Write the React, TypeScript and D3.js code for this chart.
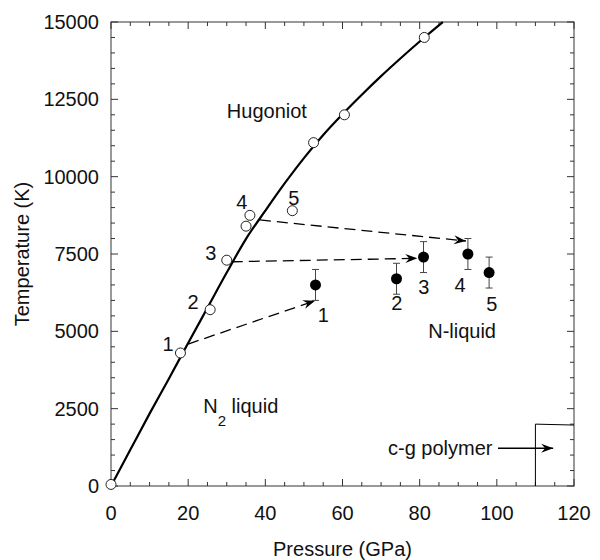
import React from 'react';
import * as d3 from 'd3';

// Hugoniot curve
const curveP = [0, 5, 10, 15, 20, 25, 30, 35, 40, 45, 50, 55, 60, 65, 70, 75, 80, 86];
const curveT = [0, 1170, 2340, 3470, 4620, 5760, 6900, 7990, 8900, 9780, 10600, 11350, 12020, 12650, 13250, 13820, 14370, 15000];

// Open circles on the Hugoniot
const hugP = [0, 18, 25.7, 30, 35, 36, 47, 52.5, 60.5, 81.2];
const hugT = [50, 4300, 5700, 7300, 8400, 8750, 8900, 11100, 12000, 14500];

// Filled points (N-liquid) with error bars
const liqP = [53, 74, 81, 92.5, 98];
const liqT = [6500, 6700, 7400, 7500, 6900];
const liqErr = [500, 500, 500, 500, 500];

// Dashed arrows
const arrFromP = [20, 31.3, 38.6];
const arrFromT = [4590, 7250, 8600];
const arrToP = [52.9, 79.4, 92];
const arrToT = [5990, 7360, 7920];

// Number labels
const numText = ['1', '2', '3', '4', '5'];
const hugLabP = [14.8, 21.3, 25.9, 33.9, 47.4];
const hugLabT = [4600, 5950, 7530, 9190, 9310];
const liqLabP = [55, 74.1, 81.1, 90.5, 98.7];
const liqLabT = [5530, 5920, 6430, 6500, 5880];

// c-g polymer boundary
const polyP = [110, 110, 120];
const polyT = [0, 2000, 1970];
const polyArrowP = [100.3, 114.6];
const polyArrowT = [1220, 1220];

const xTicks = [0, 20, 40, 60, 80, 100, 120];
const yTicks = [0, 2500, 5000, 7500, 10000, 12500, 15000];
const xMinor = d3.range(0, 121, 5);
const yMinor = d3.range(0, 15001, 500);

const FONT = '"Liberation Sans", Arial, Helvetica, sans-serif';

export default function App() {
  const x = d3.scaleLinear().domain([0, 120]).range([111, 574]);
  const y = d3.scaleLinear().domain([0, 15000]).range([486, 22]);
  const [x0, x1] = x.range();
  const [y0, y1] = y.range();

  const line = d3
    .line<number>()
    .x((_, i) => x(curveP[i]))
    .y((_, i) => y(curveT[i]))
    .curve(d3.curveMonotoneX);
  const curvePath = line(curveP) || '';

  const polyLine = d3
    .line<number>()
    .x((_, i) => x(polyP[i]))
    .y((_, i) => y(polyT[i]));

  const axisColor = '#555';

  return (
    <svg
      width={600}
      height={560}
      style={{ position: 'absolute', left: 0, top: 0, background: '#fff' }}
      fontFamily={FONT}
    >
      <defs>
        <marker
          id="arrow"
          viewBox="-13 -6 14 12"
          markerWidth={14}
          markerHeight={12}
          refX={0}
          refY={0}
          orient="auto"
          markerUnits="userSpaceOnUse"
        >
          <path d="M0,0 L-12,-4.5 L-8,0 L-12,4.5 Z" fill="#000" />
        </marker>
      </defs>
      <rect x={0} y={0} width={600} height={560} fill="#fff" />

      {/* frame */}
      <rect x={x0} y={y1} width={x1 - x0} height={y0 - y1} fill="none" stroke={axisColor} strokeWidth={1.2} />

      {/* x ticks bottom & top */}
      {xMinor.map((v) => {
        const major = v % 20 === 0;
        const len = major ? 7 : 4;
        const px = x(v);
        return (
          <g key={'xt' + v} stroke="#333" strokeWidth={1}>
            <line x1={px} x2={px} y1={y0} y2={y0 - len} />
            <line x1={px} x2={px} y1={y1} y2={y1 + len} />
          </g>
        );
      })}
      {yMinor.map((v) => {
        const major = v % 2500 === 0;
        const len = major ? 7 : 4;
        const py = y(v);
        return (
          <g key={'yt' + v} stroke="#333" strokeWidth={1}>
            <line x1={x0} x2={x0 + len} y1={py} y2={py} />
            <line x1={x1} x2={x1 - len} y1={py} y2={py} />
          </g>
        );
      })}

      {/* tick labels */}
      {xTicks.map((v) => (
        <text key={'xl' + v} x={x(v)} y={520} textAnchor="middle" fontSize={20} fill="#111">
          {v}
        </text>
      ))}
      {yTicks.map((v) => (
        <text key={'yl' + v} x={99} y={y(v)} dy="0.35em" textAnchor="end" fontSize={20} fill="#111">
          {v}
        </text>
      ))}

      {/* axis titles */}
      <text x={(x0 + x1) / 2} y={556} textAnchor="middle" fontSize={20} fill="#111">
        Pressure (GPa)
      </text>
      <text
        transform={`translate(29, ${(y0 + y1) / 2}) rotate(-90)`}
        textAnchor="middle"
        fontSize={20}
        fill="#111"
      >
        Temperature (K)
      </text>

      {/* Hugoniot curve */}
      <path d={curvePath} fill="none" stroke="#000" strokeWidth={2.2} />

      {/* polymer boundary */}
      <path d={polyLine(polyP) || ''} fill="none" stroke="#000" strokeWidth={1} />
      <line
        x1={x(polyArrowP[0])}
        y1={y(polyArrowT[0])}
        x2={x(polyArrowP[1])}
        y2={y(polyArrowT[1])}
        stroke="#000"
        strokeWidth={1.3}
        markerEnd="url(#arrow)"
      />

      {/* dashed arrows */}
      {arrFromP.map((p, i) => (
        <line
          key={'da' + i}
          x1={x(p)}
          y1={y(arrFromT[i])}
          x2={x(arrToP[i])}
          y2={y(arrToT[i])}
          stroke="#000"
          strokeWidth={1.3}
          strokeDasharray="11,6"
          markerEnd="url(#arrow)"
        />
      ))}

      {/* open circles */}
      {hugP.map((p, i) => (
        <circle key={'hc' + i} cx={x(p)} cy={y(hugT[i])} r={5} fill="#fff" stroke="#222" strokeWidth={1} />
      ))}

      {/* error bars & filled points */}
      {liqP.map((p, i) => {
        const px = x(p);
        const top = y(liqT[i] + liqErr[i]);
        const bot = y(liqT[i] - liqErr[i]);
        return (
          <g key={'lq' + i}>
            <g stroke="#444" strokeWidth={1}>
              <line x1={px} x2={px} y1={top} y2={bot} />
              <line x1={px - 3.5} x2={px + 3.5} y1={top} y2={top} />
              <line x1={px - 3.5} x2={px + 3.5} y1={bot} y2={bot} />
            </g>
            <circle cx={px} cy={y(liqT[i])} r={5.5} fill="#000" />
          </g>
        );
      })}

      {/* number labels */}
      {numText.map((t, i) => (
        <text key={'hl' + i} x={x(hugLabP[i])} y={y(hugLabT[i])} dy="0.36em" textAnchor="middle" fontSize={20} fill="#111">
          {t}
        </text>
      ))}
      {numText.map((t, i) => (
        <text key={'ll' + i} x={x(liqLabP[i])} y={y(liqLabT[i])} dy="0.36em" textAnchor="middle" fontSize={20} fill="#111">
          {t}
        </text>
      ))}

      {/* region labels */}
      <text x={x(40.4)} y={y(11900)} textAnchor="middle" fontSize={20} fill="#111">
        Hugoniot
      </text>
      <text x={x(91)} y={y(4785)} textAnchor="middle" fontSize={20} fill="#111">
        N-liquid
      </text>
      <text x={x(23.9)} y={y(2350)} fontSize={20} fill="#111">
        N
        <tspan fontSize={15} dy={13}>2</tspan>
        <tspan dy={-13}> liquid</tspan>
      </text>
      <text x={x(71.8)} y={y(1000)} fontSize={20} fill="#111">
        c-g polymer
      </text>
    </svg>
  );
}
